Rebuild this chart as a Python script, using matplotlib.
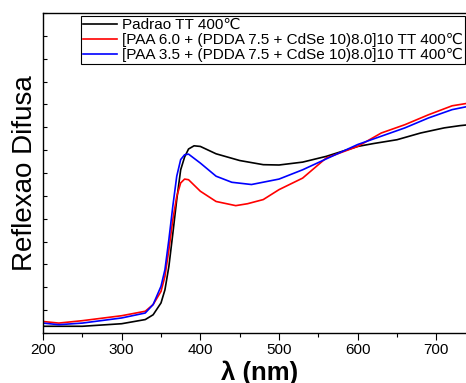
import matplotlib
matplotlib.use("Agg")
import matplotlib.pyplot as plt
import numpy as np
from matplotlib.ticker import MultipleLocator, NullFormatter

plt.rcParams['font.family'] = ['Liberation Sans', 'DejaVu Sans']

# wavelength (nm) and diffuse reflectance (arbitrary units)
wl_padrao = [200, 250, 300, 330, 340, 350, 355, 360, 365, 370, 375, 380, 385, 392, 400,
             420, 450, 480, 500, 530, 560, 600, 620, 650, 680, 710, 730, 750]
r_padrao = [2.1, 2.1, 2.9, 4.2, 5.7, 9.4, 13.5, 20.8, 31.0, 41.7, 51.0, 55.0, 57.5, 58.5, 58.3,
            56.0, 53.9, 52.6, 52.5, 53.4, 55.2, 58.3, 59.2, 60.4, 62.5, 64.1, 64.8, 65.3]

wl_paa60 = [200, 220, 250, 300, 330, 340, 350, 355, 360, 365, 370, 375, 380, 385, 400,
            420, 445, 460, 480, 500, 530, 560, 600, 630, 660, 690, 720, 740, 750]
r_paa60 = [3.6, 3.1, 3.85, 5.4, 6.8, 8.9, 13.0, 17.7, 26.0, 35.4, 42.7, 46.9, 48.1, 47.9, 44.3,
           41.1, 39.8, 40.4, 41.7, 44.8, 48.4, 54.7, 58.3, 62.5, 65.1, 68.2, 71.0, 71.8, 72.2]

wl_paa35 = [200, 220, 250, 300, 330, 340, 350, 355, 360, 365, 370, 375, 380, 385, 400,
            420, 440, 465, 500, 530, 560, 600, 630, 660, 690, 720, 740, 750]
r_paa35 = [3.1, 2.6, 3.1, 4.7, 6.25, 8.9, 14.6, 19.8, 29.2, 39.6, 49.0, 54.2, 55.7, 55.9, 53.1,
           49.0, 47.1, 46.4, 48.1, 51.0, 54.4, 58.9, 61.5, 64.1, 67.2, 69.8, 70.8, 71.2]

labels = ['Padrao TT 400\u2103',
          '[PAA 6.0 + (PDDA 7.5 + CdSe 10)8.0]10 TT 400\u2103',
          '[PAA 3.5 + (PDDA 7.5 + CdSe 10)8.0]10 TT 400\u2103']

fig = plt.figure(figsize=(4.66, 3.83), dpi=100)
# axes runs past the right edge of the figure, as in the original crop
ax_w = 432.7
ax = fig.add_axes([43 / 466, 50 / 383, ax_w / 466, 320 / 383])

ax.plot(wl_padrao, r_padrao, color='black', lw=1.2, label=labels[0])
ax.plot(wl_paa60, r_paa60, color='red', lw=1.2, label=labels[1])
ax.plot(wl_paa35, r_paa35, color='blue', lw=1.2, label=labels[2])

ax.set_xlim(200, 750)
ax.set_ylim(0, 100)
ax.xaxis.set_major_locator(MultipleLocator(100))
ax.xaxis.set_minor_locator(MultipleLocator(50))
ax.tick_params(axis='x', which='major', direction='out', length=5, width=0.8, labelsize=11, pad=2)
ax.tick_params(axis='x', which='minor', direction='out', length=3, width=0.8)
ax.yaxis.set_major_locator(MultipleLocator(100))
ax.yaxis.set_minor_locator(MultipleLocator(100 / 14))
ax.yaxis.set_major_formatter(NullFormatter())
ax.tick_params(axis='y', which='both', direction='in', length=3, width=0.8, left=True)
for s in ax.spines.values():
    s.set_linewidth(1.0)

ax.set_xlabel('\u03bb (nm)', fontsize=18.5, fontweight='bold', labelpad=3)
ax.set_ylabel('Reflexao Difusa', fontsize=20, labelpad=0)

leg = ax.legend(loc='upper left', bbox_to_anchor=(38 / ax_w, 1 - 3 / 320), fontsize=11,
                fancybox=False, edgecolor='black', framealpha=1, borderaxespad=0,
                borderpad=0.15, labelspacing=0.05, handlelength=2.2, handletextpad=0.35)
leg.get_frame().set_linewidth(0.8)

fig.savefig('out.png', dpi=100)
